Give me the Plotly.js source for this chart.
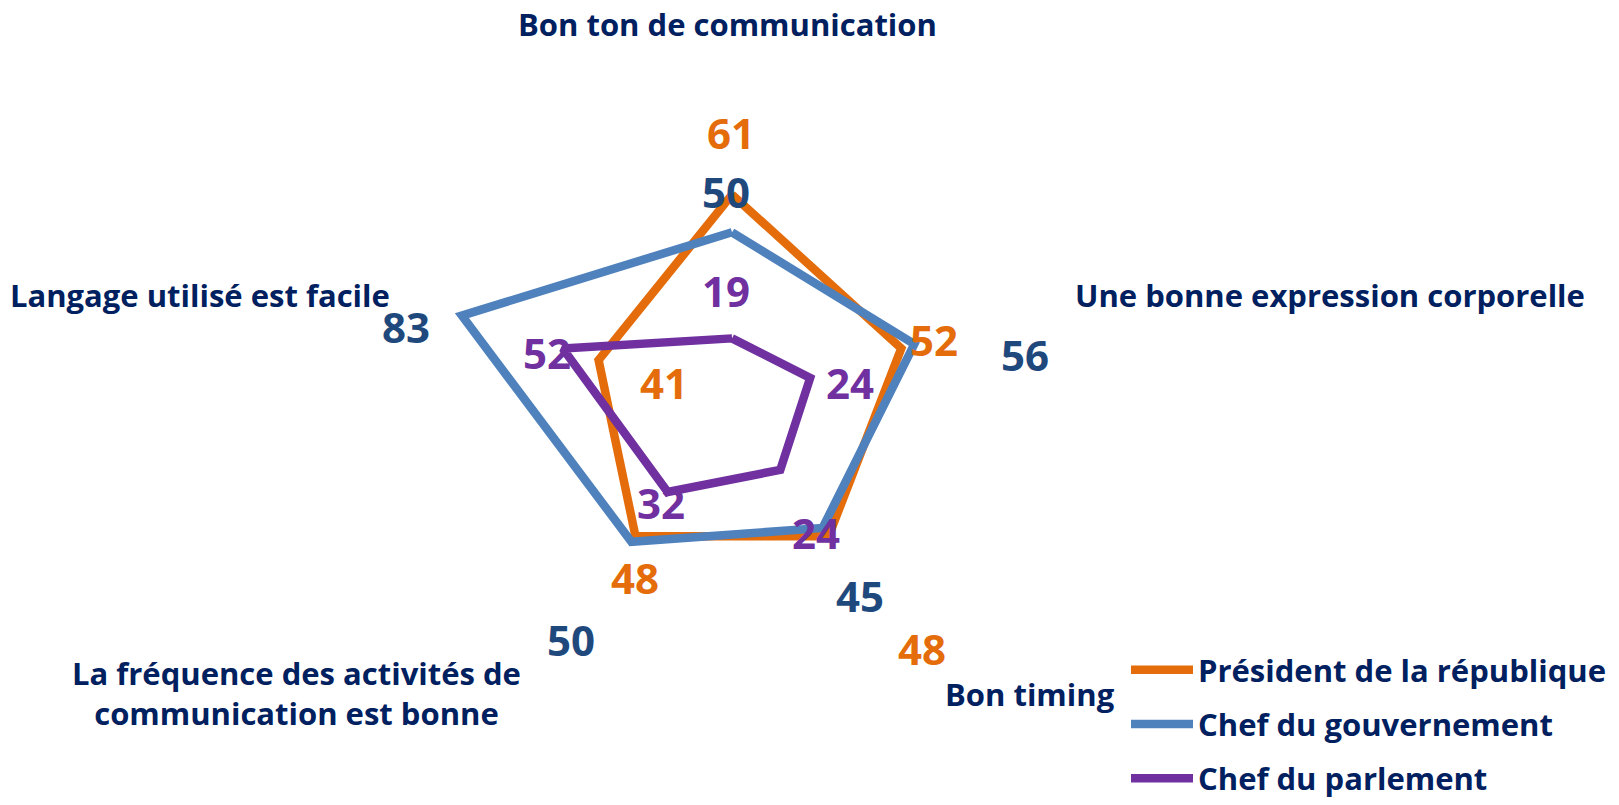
<!DOCTYPE html>
<html>
<head>
<meta charset="utf-8">
<script src="https://cdn.plot.ly/plotly-3.0.1.min.js"></script>
<style>
  html, body { margin: 0; padding: 0; background: #fff; }
  #chart { width: 1619px; height: 805px; }
</style>
</head>
<body>
<div id="chart"></div>
<script>
// Categories, clockwise from the top
const categories = [
    'Bon ton de communication',
    'Une bonne expression corporelle',
    'Bon timing',
    'La fréquence des activités de<br>communication est bonne',
    'Langage utilisé est facile'
];
const seriesNames = ['Président de la république', 'Chef du gouvernement', 'Chef du parlement'];
const presidentValues = [61, 52, 48, 48, 41];
const gouvernementValues = [50, 56, 45, 50, 83];
const parlementValues = [19, 24, 24, 32, 52];

const lineColors = ['#E46C0A', '#4F81BD', '#7030A0'];
const labelColors = ['#E46C0A', '#1F497D', '#7030A0'];
const navy = '#002060';
const W = 1619, H = 805;
const FONT = '"Open Sans", Lato, sans-serif';

// where Excel dropped the data labels (pixels), per series, per category
const labelPos = [
    [[731, 134], [934, 344], [922, 657], [635, 586], [664, 388]],
    [[726, 194], [1025, 359], [860, 604], [571, 648], [406, 331]],
    [[726, 295], [850, 388], [816, 540], [661, 509], [547, 357]]
];
// category label positions (pixels)
const catPos = [[727, 24], [1330, 299], [1030, 704], [296, 703], [200, 299]];

const allValues = [presidentValues, gouvernementValues, parlementValues];

const data = allValues.map((vals, i) => ({
    type: 'scatterpolar',
    r: vals.concat([vals[0]]),
    theta: categories.concat([categories[0]]),
    mode: 'lines',
    name: seriesNames[i],
    legendgroup: 'g' + i,
    line: {color: lineColors[i], width: 8.5},
    hoverinfo: 'skip'
}));

const annotations = [];
allValues.forEach((vals, i) => {
    vals.forEach((v, j) => {
        annotations.push({
            xref: 'paper', yref: 'paper',
            x: labelPos[i][j][0] / W, y: 1 - labelPos[i][j][1] / H,
            xanchor: 'center', yanchor: 'middle',
            text: String(v), showarrow: false,
            font: {family: FONT, size: 42, color: labelColors[i], weight: 'bold'}
        });
    });
});
categories.forEach((c, j) => {
    annotations.push({
        xref: 'paper', yref: 'paper',
        x: catPos[j][0] / W, y: 1 - catPos[j][1] / H,
        xanchor: 'center', yanchor: 'middle',
        text: c, showarrow: false, align: 'center',
        font: {family: FONT, size: 31, color: navy, weight: 'bold'}
    });
});

const layout = {
    width: W, height: H,
    margin: {l: 0, r: 0, t: 0, b: 0},
    paper_bgcolor: '#fff',
    font: {family: FONT, color: navy},
    // centre (732, 409) px, 3.47 px per unit
    polar: {
        domain: {x: [0.2378, 0.6665], y: [0.0609, 0.9230]},
        bgcolor: 'rgba(0,0,0,0)',
        radialaxis: {range: [0, 100], visible: false, showgrid: false},
        angularaxis: {
            direction: 'clockwise', rotation: 90,
            showgrid: false, showline: false, showticklabels: false, ticks: ''
        }
    },
    showlegend: true,
    legend: {
        x: 1126 / W, y: 1 - 652 / H,
        xanchor: 'left', yanchor: 'top',
        tracegroupgap: 11,
        itemwidth: 62,
        font: {family: FONT, size: 31, color: navy, weight: 'bold'}
    },
    annotations: annotations
};

Plotly.newPlot('chart', data, layout, {displayModeBar: false, staticPlot: true});
</script>
</body>
</html>
